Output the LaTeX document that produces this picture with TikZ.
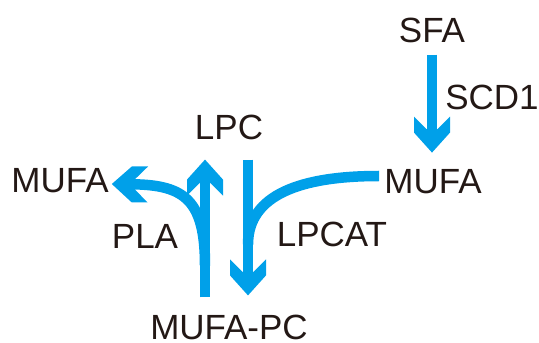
\documentclass[tikz,border=0pt]{standalone}
\usepackage{fontspec}
\usepackage{tikz}
\setmainfont{Liberation Sans}
\definecolor{flowblue}{RGB}{0,160,233}
\definecolor{inkblack}{RGB}{35,24,21}
% Chevron arrow head
\pgfdeclarearrow{
  name = Chevron,
  setup code = {
    \pgfarrowssettipend{0pt}
    \pgfarrowssetlineend{-21pt}
    \pgfarrowssetbackend{-36pt}
    \pgfarrowssetvisualbackend{-21pt}
    \pgfarrowshullpoint{0pt}{0pt}
    \pgfarrowsupperhullpoint{-36pt}{18pt}
  },
  drawing code = {
    \pgfpathmoveto{\pgfpoint{0pt}{0pt}}
    \pgfpathlineto{\pgfpoint{-20pt}{18pt}}
    \pgfpathlineto{\pgfpoint{-36pt}{18pt}}
    \pgfpathlineto{\pgfpoint{-23.5pt}{5.5pt}}
    \pgfpathlineto{\pgfpoint{-23.5pt}{-5.5pt}}
    \pgfpathlineto{\pgfpoint{-36pt}{-18pt}}
    \pgfpathlineto{\pgfpoint{-20pt}{-18pt}}
    \pgfpathclose
    \pgfusepathqfill
  }
}

\begin{document}
\begin{tikzpicture}[x=1pt, y=1pt,
    metab/.style={inner sep=0pt, text=inkblack, font=\fontsize{35}{42}\selectfont},
    flowline/.style={draw=flowblue, line width=10.5pt},
    flowarrow/.style={flowline, -Chevron}]
        % Fix the canvas
        \useasboundingbox (0,0) rectangle (539,343);
        % Place the metabolites
        \node[metab] (sfa) at (432,313) {SFA};
        \node[metab] (mufaR) at (433,161) {MUFA};
        \node[metab] (lpc) at (229,216) {LPC};
        \node[metab] (mufaL) at (60,162) {MUFA};
        \node[metab] (mufapc) at (229,16) {MUFA-PC};
        % Place the enzymes
        \node[metab] (scd) at (492,246) {SCD1};
        \node[metab] (pla) at (145,107) {PLA};
        \node[metab] (lpcat) at (332,109) {LPCAT};
        % Desaturation
        \draw[flowarrow, shorten <=12pt, shorten >=17pt] (sfa.south) -- (sfa.south |- mufaR.north);
        % Release of MUFA from MUFA-PC
        \draw[flowarrow, shorten <=17pt, shorten >=20pt] ([xshift=-24pt]mufapc.north) -- coordinate[pos=0.28] (forkL) ([xshift=-24pt]lpc.south);
        \draw[flowarrow] (forkL) .. controls +(0,65) and +(73,-1) .. ([xshift=3pt,yshift=-3pt]mufaL.east);
        % Acylation of LPC
        \draw[flowarrow, shorten <=20pt, shorten >=19pt] ([xshift=19pt]lpc.south) -- coordinate[pos=0.6] (forkR) ([xshift=19pt]mufapc.north);
        \draw[flowline] ([xshift=-5pt,yshift=6pt]mufaR.west) .. controls +(-78,0) and +(0,50) .. (forkR);
    \end{tikzpicture}
\end{document}
